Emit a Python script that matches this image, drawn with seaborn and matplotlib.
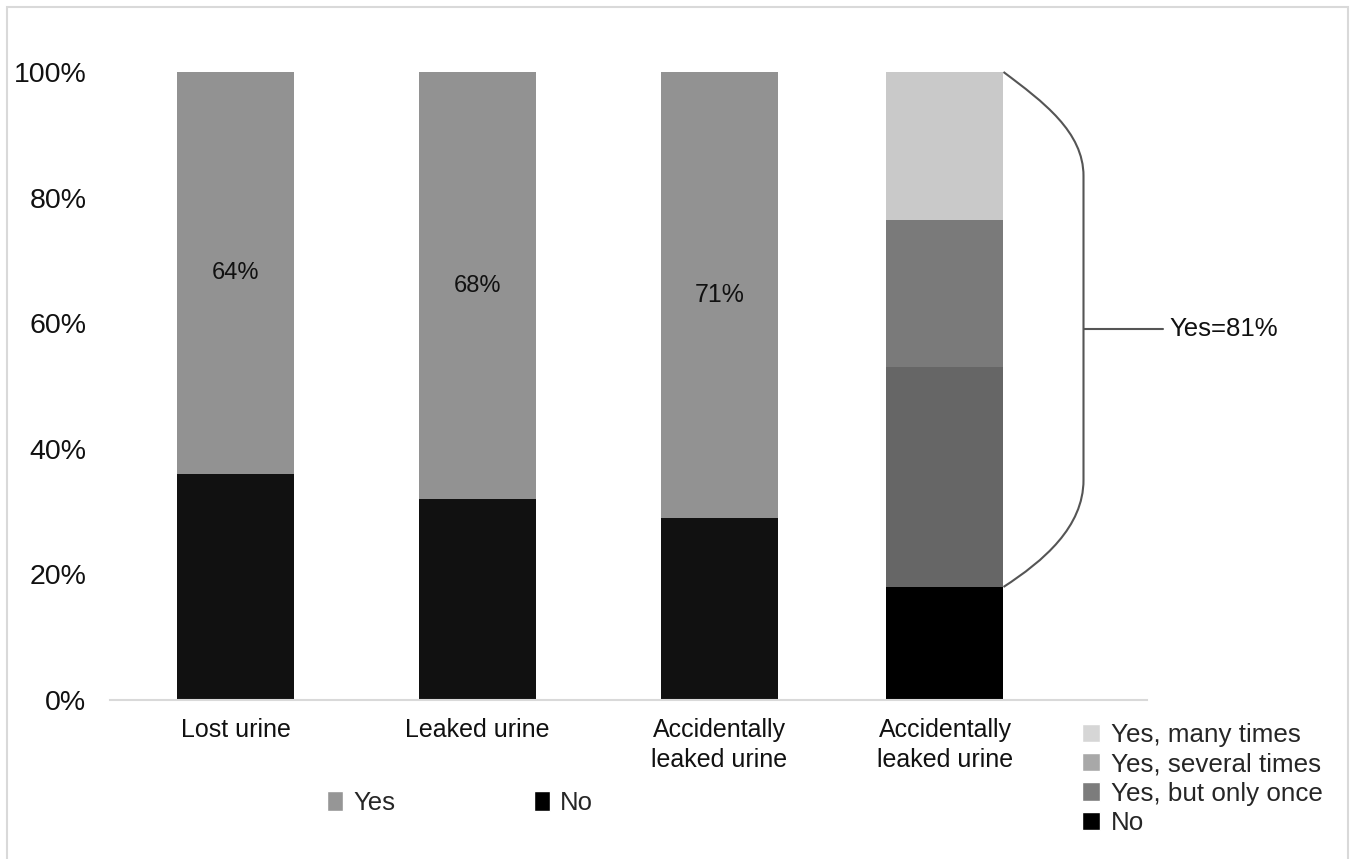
import numpy as np
import pandas as pd
import matplotlib
matplotlib.use("Agg")
import matplotlib.pyplot as plt
import seaborn as sns
from matplotlib.patches import Patch, Rectangle, PathPatch
from matplotlib.path import Path

# ---------------- data ----------------
categories = ["Lost urine", "Leaked urine", "Accidentally\nleaked urine", "Accidentally\nleaked urine"]
yes_values = [64, 68, 71]
no_values = [36, 32, 29]
yes_labels = ["64%", "68%", "71%"]
freq_levels = ["No", "Yes, but only once", "Yes, several times", "Yes, many times"]
freq_values = [18, 35, 23.5, 23.5]
yes_total_label = "Yes=81%"
y_ticks = [0, 20, 40, 60, 80, 100]
y_tick_labels = ["0%", "20%", "40%", "60%", "80%", "100%"]

# ---------------- style ----------------
sns.set_theme(style="white")
plt.rcParams["font.family"] = ["Liberation Sans", "DejaVu Sans"]

col_yes = "#929292"
col_no = "#111111"
bar_freq_colors = {"No": "#000000", "Yes, but only once": "#666666",
                   "Yes, several times": "#7a7a7a", "Yes, many times": "#c9c9c9"}
legend_freq_colors = {"No": "#000000", "Yes, but only once": "#7c7c7c",
                      "Yes, several times": "#a8a8a8", "Yes, many times": "#d6d6d6"}

W, H = 1353, 859
fig = plt.figure(figsize=(W / 100, H / 100), dpi=100)
fig.patch.set_facecolor("white")
ax = fig.add_axes([110 / W, (H - 700) / H, (1147 - 110) / W, (700 - 72) / H])

step = 242.0                      # pixel spacing of the first three bars
ppu = 6.28                        # pixels per percent
pos = [0.0, 1.0, 2.0, (945 - 235.5) / step]
bar_w = 117 / step

# ---------------- bars ----------------
rows = []
for i in range(3):
    rows.append(("Yes", pos[i], no_values[i] + yes_values[i]))
for i in range(3):
    rows.append(("No", pos[i], no_values[i]))
df = pd.DataFrame(rows, columns=["layer", "x", "top"])

sns.barplot(data=df, x="x", y="top", hue="layer", hue_order=["Yes", "No"],
            palette={"Yes": col_yes, "No": col_no}, native_scale=True, dodge=False,
            width=bar_w, errorbar=None, saturation=1, linewidth=0, legend=False, ax=ax)

cum = np.cumsum(freq_values)
for lvl, top in sorted(zip(freq_levels, cum), key=lambda t: -t[1]):
    sub = pd.DataFrame({"x": [pos[3]], "top": [top]})
    sns.barplot(data=sub, x="x", y="top", color=bar_freq_colors[lvl], native_scale=True,
                width=bar_w, errorbar=None, saturation=1, linewidth=0, ax=ax)

# value labels inside bars
for i in range(3):
    fs = 18 if i == 2 else 17
    ax.text(pos[i], no_values[i] + yes_values[i] / 2, yes_labels[i], ha="center", va="center",
            fontsize=fs, color="#111111")

# ---------------- axes ----------------
ax.set_xlim((110 - 235.5) / step, (1147 - 235.5) / step)
ax.set_ylim(0, 100)
ax.set_xticks(pos)
ax.set_xticklabels(categories, fontsize=18, color="#111111", linespacing=1.3)
ax.set_yticks(y_ticks)
ax.set_yticklabels(y_tick_labels, fontsize=20.5, color="#111111")
ax.tick_params(axis="x", length=0, pad=13)
ax.tick_params(axis="y", length=0, pad=17)
ax.set_xlabel("")
ax.set_ylabel("")
ax.grid(False)
for s in ["left", "right", "top"]:
    ax.spines[s].set_visible(False)
ax.spines["bottom"].set_color("#d9d9d9")
ax.spines["bottom"].set_linewidth(1.5)

# ---------------- bracket ----------------
xr = pos[3] + bar_w / 2
xv = xr + 80 / step
ytop = cum[-1]
ybot = cum[0]
verts = [
    (xr, ytop), (xr + 40 / step, ytop - 30 / ppu), (xv, ytop - 60 / ppu), (xv, ytop - 104 / ppu),
    (xv, ybot + 107 / ppu),
    (xv, ybot + 60 / ppu), (xr + 40 / step, ybot + 26 / ppu), (xr, ybot),
]
codes = [Path.MOVETO, Path.CURVE4, Path.CURVE4, Path.CURVE4, Path.LINETO,
         Path.CURVE4, Path.CURVE4, Path.CURVE4]
ax.add_patch(PathPatch(Path(verts, codes), facecolor="none", edgecolor="#555555",
                       linewidth=1.5, clip_on=False))
ymid = (ytop + ybot) / 2
ax.plot([xv, xv + 79 / step], [ymid, ymid], color="#555555", linewidth=1.5, clip_on=False)
ax.text(xv + 86 / step, ymid, yes_total_label, ha="left", va="center", fontsize=18.5,
        color="#111111", clip_on=False)

# ---------------- legends ----------------
h1 = [Patch(facecolor="#969696", label="Yes"), Patch(facecolor="#000000", label="No")]
fig.legend(handles=h1, ncol=2, loc="center left", bbox_to_anchor=(327 / W, 1 - 803 / H),
           frameon=False, fontsize=18.5, borderpad=0, borderaxespad=0, handlelength=0.62,
           handleheight=0.8, handletextpad=0.4, columnspacing=5.4)

order = ["Yes, many times", "Yes, several times", "Yes, but only once", "No"]
h2 = [Patch(facecolor=legend_freq_colors[k], label=k) for k in order]
fig.legend(handles=h2, ncol=1, loc="center left", bbox_to_anchor=(1082 / W, 1 - 779 / H),
           frameon=False, fontsize=18.7, borderpad=0, borderaxespad=0, handlelength=0.7,
           handleheight=0.7, handletextpad=0.4, labelspacing=0.2)

# outer frame
fig.add_artist(Rectangle((7 / W, -0.05), (1348 - 7) / W, 1 - 7 / H + 0.05,
                         transform=fig.transFigure, facecolor="none",
                         edgecolor="#d9d9d9", linewidth=1.5))

fig.savefig("out.png", dpi=100, facecolor="white")
